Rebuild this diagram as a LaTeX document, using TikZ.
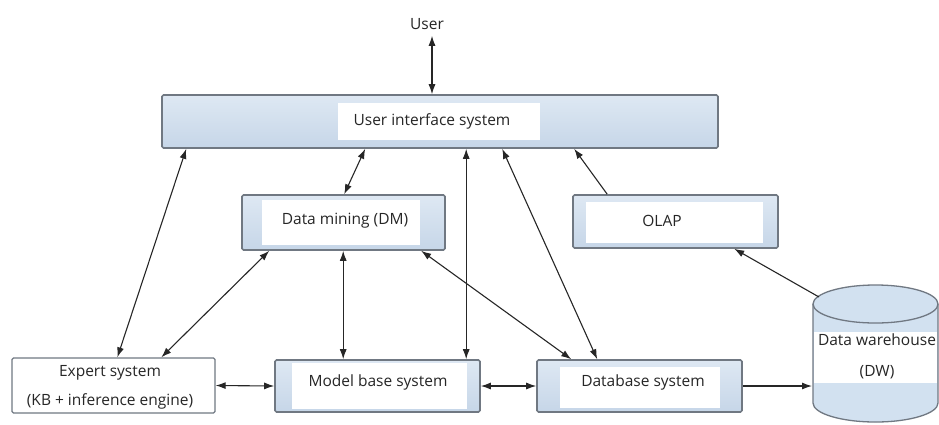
\documentclass[tikz,border=0pt]{standalone}
\usepackage{fontspec}
\setmainfont{Open Sans}
\usepackage{tikz}
\usetikzlibrary{arrows.meta}
\definecolor{boxline}{RGB}{112,120,130}
\definecolor{boxtop}{RGB}{222,232,243}
\definecolor{boxbot}{RGB}{198,214,232}
\definecolor{cylfill}{RGB}{210,225,240}
\tikzstyle{graph}=[x=1pt, y=-1pt, font=\fontsize{15.5}{18}\selectfont, >={Latex[length=10pt,width=7pt]}]
\tikzstyle{sys}=[rectangle, draw=boxline, line width=1.6pt, rounded corners=1.5pt, top color=boxtop, bottom color=boxbot, inner sep=0pt]
\tikzstyle{plain}=[rectangle, draw=boxline, line width=1.3pt, rounded corners=1.5pt, fill=white, inner sep=0pt]
\tikzstyle{lbl}=[inner sep=1pt, text=black!85]
\tikzstyle{edge}=[<->, line width=1.1pt, draw=black!85]
\tikzstyle{oneway}=[->, line width=1.1pt, draw=black!85]
\tikzstyle{cyl}=[draw=boxline, line width=1.3pt, fill=cylfill]

\begin{document}
\begin{tikzpicture}[graph]
	\useasboundingbox (0,0) rectangle (939,424);
	% boxes
	\draw (440,121.5) node[sys, minimum width=556pt, minimum height=53pt] (ui) {};
	\fill[white] (338,103) rectangle (540,140);
	\draw (432,121) node[lbl] (uiT) {User interface system};
	\draw (343.5,222.5) node[sys, minimum width=203pt, minimum height=55pt] (dm) {};
	\fill[white] (262,200) rectangle (420,245);
	\draw (345,221) node[lbl] (dmT) {Data mining (DM)};
	\draw (675.5,221.5) node[sys, minimum width=205pt, minimum height=53pt] (olap) {};
	\fill[white] (586,202) rectangle (763,243);
	\draw (662,221) node[lbl] (olapT) {OLAP};
	\draw (113.5,385.5) node[plain, minimum width=203pt, minimum height=55pt] (es) {};
	\draw (110,387) node[lbl, align=center] (esT) {Expert system\\[11pt](KB + inference engine)};
	\draw (377.5,386) node[sys, minimum width=205pt, minimum height=52pt] (mb) {};
	\fill[white] (292,363) rectangle (467,409);
	\draw (378,382) node[lbl] (mbT) {Model base system};
	\draw (639.5,386) node[sys, minimum width=205pt, minimum height=52pt] (db) {};
	\fill[white] (560,367) rectangle (720,408);
	\draw (643,382) node[lbl] (dbT) {Database system};
	\draw (427,24) node[lbl, inner sep=6pt] (user) {User};
	% data warehouse
	\filldraw[cyl] (813,304) -- (813,403) arc[start angle=180, end angle=360, x radius=62.5pt, y radius=19pt]
		-- (938,304) arc[start angle=0, end angle=180, x radius=62.5pt, y radius=19pt];
	\draw[boxline, line width=1.3pt] (813,304) arc[start angle=180, end angle=360, x radius=62.5pt, y radius=19pt];
	\fill[white] (814,332) rectangle (937,383);
	\draw (877,356) node[lbl, align=center] (dw) {Data warehouse\\[13pt](DW)};
	\coordinate (dwW) at (812,386);
	\coordinate (dwTop) at (819,297);
	% connectors
	\draw[edge] ([xshift=5pt]user.south) -- ([xshift=-8pt]ui.north);
	\draw[edge] ([xshift=25pt]ui.south west) -- ([xshift=106pt]es.north west);
	\draw[edge] ([xshift=204pt]ui.south west) -- ([xshift=103pt]dm.north west);
	\draw[edge] ([xshift=305pt]ui.south west) -- ([xshift=192pt]mb.north west);
	\draw[edge] ([xshift=341pt]ui.south west) -- ([xshift=61pt]db.north west);
	\draw[oneway] ([xshift=35pt]olap.north west) -- ([xshift=413pt]ui.south west);
	\draw[oneway] (dwTop) -- ([xshift=162pt]olap.south west);
	\draw[edge] ([xshift=28pt]dm.south west) -- ([xshift=150pt]es.north west);
	\draw[edge] ([xshift=102pt]dm.south west) -- ([xshift=69pt]mb.north west);
	\draw[edge] ([xshift=180pt]dm.south west) -- ([xshift=35pt]db.north west);
	\draw[edge] (es.east) -- (mb.west);
	\draw[edge] (mb.east) -- (db.west);
	\draw[oneway] (db.east) -- (dwW);
\end{tikzpicture}
\end{document}
